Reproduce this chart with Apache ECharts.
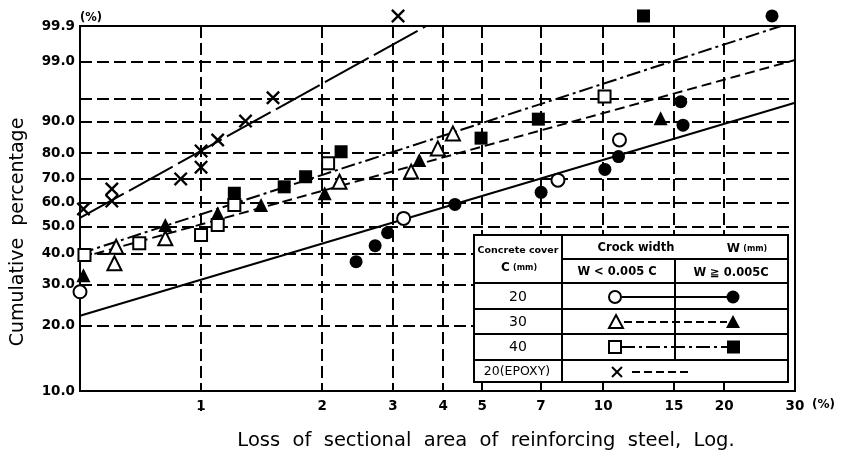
<!DOCTYPE html>
<html><head><meta charset="utf-8">
<script src="https://cdn.jsdelivr.net/npm/echarts@6/dist/echarts.min.js"></script>
<style>html,body{margin:0;padding:0;background:#fff}#c{width:844px;height:456px}</style>
</head><body><div id="c"></div>
<script>
// ---- axes ----
const xRange = [0.5, 30];
const xTicks = [1, 2, 3, 4, 5, 7, 10, 15, 20, 30];
const xTickLabels = ['1', '2', '3', '4', '5', '7', '10', '15', '20', '30'];
const yRange = [10, 99.9];
const yTicks = [10, 20, 30, 40, 50, 60, 70, 80, 90, 95, 99, 99.9];
const yTickLabels = ['10.0', '20.0', '30.0', '40.0', '50.0', '60.0', '70.0', '80.0', '90.0', '', '99.0', '99.9'];

// ---- C = 20 mm (circles, solid) ----
const c20OpenX = [0.5, 3.19, 7.72, 10.98];
const c20OpenY = [28.0, 53.3, 69.3, 84.6];
const c20FillX = [2.43, 2.71, 2.91, 4.28, 7.01, 10.1, 10.92, 15.6, 15.8, 26.3];
const c20FillY = [37.1, 42.7, 47.6, 59.1, 64.2, 73.7, 78.7, 94.5, 89.1, 100];
const c20LineX = [0.5, 30];
const c20LineY = [22.1, 94.3];

// ---- C = 30 mm (triangles, dashed) ----
const c30OpenX = [0.615, 0.609, 0.815, 2.21, 3.33, 3.88, 4.23];
const c30OpenY = [42.3, 36.6, 45.5, 68.6, 72.8, 81.7, 86.7];
const c30FillX = [0.51, 0.815, 1.10, 1.41, 2.03, 3.49, 13.9];
const c30FillY = [32.8, 50.6, 55.4, 58.9, 63.8, 77.4, 90.9];
const c30LineX = [0.5, 30];
const c30LineY = [38.4, 99.07];

// ---- C = 40 mm (squares, dash-dot) ----
const c40OpenX = [0.513, 0.702, 1.0, 1.10, 1.21, 2.07, 10.08];
const c40OpenY = [39.4, 43.6, 46.7, 50.6, 58.9, 76.1, 95.4];
const c40FillX = [1.21, 1.61, 1.82, 2.23, 4.97, 6.9, 12.6];
const c40FillY = [63.8, 66.5, 70.7, 80.5, 85.2, 90.7, 100];
const c40LineX = [0.5, 27.7];
const c40LineY = [39.9, 99.9];

// ---- C = 20 mm EPOXY (x) ----
const epoX = [0.51, 0.60, 0.60, 0.89, 1.0, 1.0, 1.10, 1.29, 1.51, 3.09];
const epoY = [57.2, 65.6, 60.5, 69.8, 80.8, 74.6, 84.6, 90.2, 95.2, 100];
const epoLineX = [0.5, 3.63];
const epoLineY = [53.5, 99.9];

// ---- transforms: log x, Weibull probability y ----
const lx = v => Math.log10(v);
const TOP_OFFSET = 0.115; // 100 % points are drawn just above the frame
const wb = F => F >= 100 ? Math.log(-Math.log(1 - 0.999)) + TOP_OFFSET : Math.log(-Math.log(1 - F / 100));
const pts = (xs, ys) => xs.map((x, i) => [lx(x), wb(ys[i])]);

const FONT = 'DejaVu Sans';
const BLACK = '#000';
const xSym = 'path://M0,1.2L1.2,0L5,3.8L8.8,0L10,1.2L6.2,5L10,8.8L8.8,10L5,6.2L1.2,10L0,8.8L3.8,5Z';
const DASH = [10, 5], DASHDOT = [14, 4, 3, 4], LONGDASH = [50, 6];

function lineSeries(xs, ys, type) {
  return { type: 'line', data: pts(xs, ys), symbol: 'none', silent: true, animation: false, z: 2,
    lineStyle: { color: BLACK, width: 2, type: type, opacity: 1 } };
}
function scatter(xs, ys, symbol, size, open) {
  return { type: 'scatter', data: pts(xs, ys), symbol: symbol, symbolSize: size, clip: false, z: 3,
    animation: false, silent: true,
    itemStyle: open ? { color: '#fff', borderColor: BLACK, borderWidth: 2, opacity: 1 } : { color: BLACK, opacity: 1 } };
}
function findLabel(v, ticks, labels, f) {
  for (let i = 0; i < ticks.length; i++) if (Math.abs(f(ticks[i]) - v) < 1e-6) return labels[i];
  return '';
}

// ---- legend table (graphic) ----
const G = [];
const L = (x1, y1, x2, y2, dash) => G.push({ type: 'line', z: 100, silent: true,
  shape: { x1, y1, x2, y2 }, style: { stroke: BLACK, lineWidth: 2, lineDash: dash || null } });
const T = (x, y, text, size, weight, align, extra) => G.push(Object.assign({ type: 'text', z: 101, silent: true, x, y,
  style: { text, fontFamily: FONT, fontSize: size, fontWeight: weight || 'bold', fill: BLACK,
    align: align || 'center', textAlign: align || 'center', verticalAlign: 'middle', textVerticalAlign: 'middle' } }, extra || {}));

G.push({ type: 'rect', z: 99, silent: true, shape: { x: 474, y: 235, width: 314, height: 147 },
  style: { fill: '#fff', stroke: BLACK, lineWidth: 2 } });
L(562, 235, 562, 382);
L(562, 259, 788, 259);
L(474, 283, 788, 283);
L(675, 259, 675, 360);
L(474, 309, 788, 309);
L(474, 334, 788, 334);
L(474, 360, 788, 360);

T(518, 251, 'Concrete cover', 9.5);
G.push({ type: 'text', z: 101, silent: true, x: 519, y: 268, style: {
  text: '{a|C} {b|(mm)}', align: 'center', textAlign: 'center', verticalAlign: 'middle', textVerticalAlign: 'middle',
  rich: { a: { fontFamily: FONT, fontSize: 12, fontWeight: 'bold', fill: BLACK, color: BLACK },
          b: { fontFamily: FONT, fontSize: 8, fontWeight: 'bold', fill: BLACK, color: BLACK } } } });
T(636, 248, 'Crock width', 11.5);
G.push({ type: 'text', z: 101, silent: true, x: 747, y: 249, style: {
  text: '{a|W} {b|(mm)}', align: 'center', textAlign: 'center', verticalAlign: 'middle', textVerticalAlign: 'middle',
  rich: { a: { fontFamily: FONT, fontSize: 12, fontWeight: 'bold', fill: BLACK, color: BLACK },
          b: { fontFamily: FONT, fontSize: 8, fontWeight: 'bold', fill: BLACK, color: BLACK } } } });
T(617, 272, 'W < 0.005 C', 11.5);
T(731, 273, 'W ≧ 0.005C', 11.5);
T(518, 297, '20', 14, 'normal');
T(518, 322, '30', 14, 'normal');
T(518, 347, '40', 14, 'normal');
T(517, 372, '20(EPOXY)', 12.5, 'normal');

// row 20
L(622, 297, 727, 297);
G.push({ type: 'circle', z: 102, silent: true, shape: { cx: 615, cy: 297, r: 6 }, style: { fill: '#fff', stroke: BLACK, lineWidth: 2 } });
G.push({ type: 'circle', z: 102, silent: true, shape: { cx: 733, cy: 297, r: 6.5 }, style: { fill: BLACK } });
// row 30
L(624, 322, 727, 322, [8, 4]);
G.push({ type: 'polygon', z: 102, silent: true, shape: { points: [[616, 315], [623, 328], [609, 328]] }, style: { fill: '#fff', stroke: BLACK, lineWidth: 2 } });
G.push({ type: 'polygon', z: 102, silent: true, shape: { points: [[733, 315], [740, 328], [726, 328]] }, style: { fill: BLACK } });
// row 40
L(621, 347, 727, 347, DASHDOT);
G.push({ type: 'rect', z: 102, silent: true, shape: { x: 609, y: 341, width: 12, height: 12 }, style: { fill: '#fff', stroke: BLACK, lineWidth: 2 } });
G.push({ type: 'rect', z: 102, silent: true, shape: { x: 727, y: 340.5, width: 13, height: 13 }, style: { fill: BLACK } });
// row epoxy
L(612, 367, 622, 377); L(622, 367, 612, 377);
L(632, 372, 690, 372, [8, 4]);

// axis titles
G.push({ type: 'text', z: 101, silent: true, x: 18, y: 232, rotation: Math.PI / 2, style: {
  text: 'Cumulative  percentage', fontFamily: FONT, fontSize: 19, fill: BLACK,
  align: 'center', textAlign: 'center', verticalAlign: 'middle', textVerticalAlign: 'middle' } });
T(486, 441, 'Loss  of  sectional  area  of  reinforcing  steel,  Log.', 19.5, 'normal');
T(80, 18, '(%)', 11.5, 'bold', 'left');
T(812, 405, '(%)', 12, 'bold', 'left');

const option = {
  backgroundColor: '#fff',
  animation: false,
  grid: { left: 80, right: 49, top: 26, bottom: 65, show: true, borderColor: BLACK, borderWidth: 2 },
  xAxis: {
    type: 'value', min: lx(xRange[0]), max: lx(xRange[1]),
    axisLine: { show: false },
    axisTick: { show: false, customValues: xTicks.map(lx) },
    axisLabel: { customValues: xTicks.map(lx), formatter: v => findLabel(v, xTicks, xTickLabels, lx),
      fontFamily: FONT, fontSize: 13.5, fontWeight: 'bold', color: BLACK, margin: 8 },
    splitLine: { show: true, lineStyle: { color: BLACK, width: 2, type: [12, 5] } }
  },
  yAxis: {
    type: 'value', min: wb(yRange[0]), max: wb(yRange[1]),
    axisLine: { show: false },
    axisTick: { show: false, customValues: yTicks.map(wb) },
    axisLabel: { customValues: yTicks.map(wb), formatter: v => findLabel(v, yTicks, yTickLabels, wb),
      fontFamily: FONT, fontSize: 13.5, fontWeight: 'bold', color: BLACK, margin: 5 },
    splitLine: { show: true, lineStyle: { color: BLACK, width: 2, type: [12, 5] } }
  },
  graphic: { elements: G },
  series: [
    lineSeries(c20LineX, c20LineY, 'solid'),
    lineSeries(c30LineX, c30LineY, DASH),
    lineSeries(c40LineX, c40LineY, DASHDOT),
    lineSeries(epoLineX, epoLineY, LONGDASH),
    scatter(c20OpenX, c20OpenY, 'circle', 13, true),
    scatter(c20FillX, c20FillY, 'circle', 13, false),
    scatter(c30OpenX, c30OpenY, 'triangle', 14, true),
    scatter(c30FillX, c30FillY, 'triangle', 14, false),
    scatter(c40OpenX, c40OpenY, 'rect', 12, true),
    scatter(c40FillX, c40FillY, 'rect', 13, false),
    scatter(epoX, epoY, xSym, 14, false)
  ]
};

const chart = echarts.init(document.getElementById('c'), null, { renderer: 'canvas' });
chart.setOption(option);
// dashed extension of the x = 1 gridline below the frame
const p1 = chart.convertToPixel({ xAxisIndex: 0, yAxisIndex: 0 }, [lx(1), wb(yRange[0])]);
G.push({ type: 'line', z: 100, silent: true, shape: { x1: p1[0], y1: p1[1] + 9, x2: p1[0], y2: p1[1] + 20 },
  style: { stroke: BLACK, lineWidth: 2 } });
option.graphic = { elements: G };
chart.setOption(option, true);
</script>
</body></html>
